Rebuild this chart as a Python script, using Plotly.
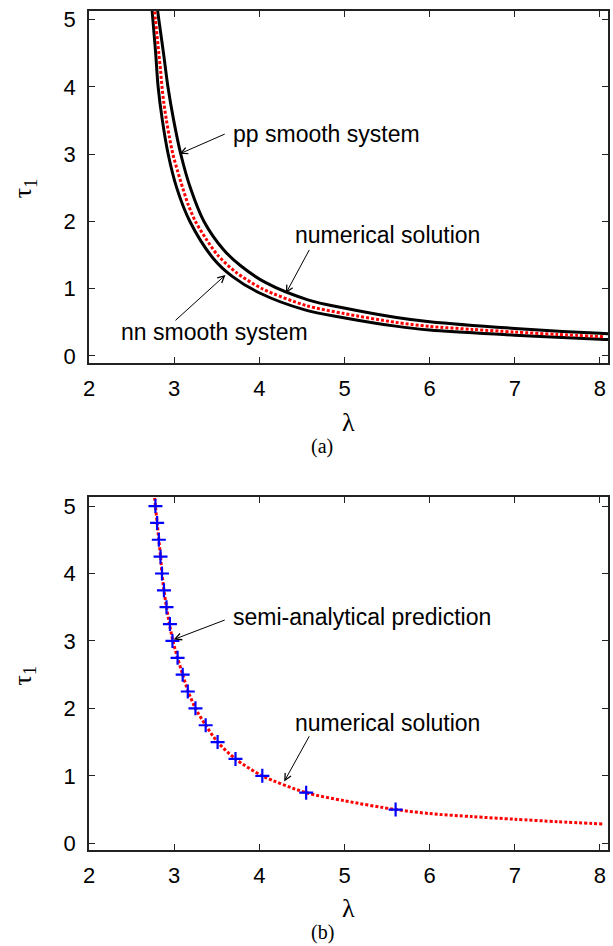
import plotly.graph_objects as go

# ---------------- data ----------------
# numerical solution (red dotted)
num_lam = [2.765, 2.78, 2.80, 2.82, 2.84, 2.857, 2.88, 2.91, 2.945, 2.985, 3.04, 3.10,
           3.165, 3.25, 3.37, 3.51, 3.72, 4.035, 4.55, 5.0, 5.6, 6.0, 6.5, 7.0, 7.5, 8.05]
num_tau = [5.2, 5.0, 4.75, 4.5, 4.25, 4.0, 3.75, 3.5, 3.25, 3.0, 2.75, 2.5,
           2.25, 2.0, 1.75, 1.5, 1.25, 1.0, 0.75, 0.63, 0.5, 0.44, 0.395, 0.356, 0.32, 0.285]

# pp smooth system (upper black)
pp_lam = [2.80, 2.82, 2.875, 2.927, 2.995, 3.078, 3.19, 3.35, 3.58, 3.777, 4.07, 4.57,
          5.01, 5.61, 6.0, 7.0, 8.0, 8.15]
pp_tau = [5.2, 5.0, 4.5, 4.0, 3.5, 3.0, 2.5, 2.0, 1.58, 1.345, 1.094, 0.835,
          0.71, 0.573, 0.51, 0.41, 0.337, 0.33]

# nn smooth system (lower black)
nn_lam = [2.737, 2.75, 2.783, 2.812, 2.862, 2.93, 3.03, 3.185, 3.462, 3.682, 4.01, 4.535,
          4.99, 5.6, 6.0, 7.0, 8.0, 8.15]
nn_tau = [5.2, 5.0, 4.5, 4.0, 3.5, 3.0, 2.5, 2.0, 1.446, 1.184, 0.933, 0.686,
          0.57, 0.444, 0.385, 0.31, 0.248, 0.243]

# semi-analytical prediction (blue crosses)
sa_lam = [2.78, 2.80, 2.82, 2.84, 2.857, 2.88, 2.91, 2.95, 2.98, 3.04, 3.10, 3.16,
          3.25, 3.37, 3.51, 3.72, 4.035, 4.55, 5.60]
sa_tau = [5.0, 4.75, 4.5, 4.25, 4.0, 3.75, 3.5, 3.25, 3.0, 2.75, 2.5, 2.25,
          2.0, 1.75, 1.5, 1.25, 1.0, 0.75, 0.5]

x_ticks = [2, 3, 4, 5, 6, 7, 8]
y_ticks = [0, 1, 2, 3, 4, 5]

# ---------------- figure ----------------
SANS = "Liberation Sans, Arial, Helvetica, sans-serif"
SERIF = "Liberation Serif, Times New Roman, serif"
RED_DOT = "3px,2px"

fig = go.Figure()

# top panel
fig.add_trace(go.Scatter(x=pp_lam, y=pp_tau, mode="lines", xaxis="x", yaxis="y",
                         line=dict(color="black", width=3, shape="spline", smoothing=1.0)))
fig.add_trace(go.Scatter(x=nn_lam, y=nn_tau, mode="lines", xaxis="x", yaxis="y",
                         line=dict(color="black", width=3, shape="spline", smoothing=1.0)))
fig.add_trace(go.Scatter(x=num_lam, y=num_tau, mode="lines", xaxis="x", yaxis="y",
                         line=dict(color="red", width=3, dash=RED_DOT, shape="spline", smoothing=0.8)))

# bottom panel
fig.add_trace(go.Scatter(x=num_lam, y=num_tau, mode="lines", xaxis="x2", yaxis="y2",
                         line=dict(color="red", width=3, dash=RED_DOT, shape="spline", smoothing=0.8)))
fig.add_trace(go.Scatter(x=sa_lam, y=sa_tau, mode="markers", xaxis="x2", yaxis="y2",
                         marker=dict(symbol="cross-thin", size=10, color="blue",
                                     line=dict(color="blue", width=2.2))))

axis_common = dict(
    showline=True, mirror="allticks", linecolor="#222", linewidth=1.5,
    ticks="inside", ticklen=6, tickwidth=1, tickcolor="#222",
    showgrid=False, zeroline=False,
    tickfont=dict(family=SANS, size=22, color="black"),
)

top_dom = [0.5808, 1.0]
bot_dom = [0.0, 0.4204]
xr = [2, 8.094]
yr = [-0.1, 5.13]

fig.update_layout(
    width=613, height=946,
    margin=dict(l=89, r=3, t=11, b=96),
    paper_bgcolor="white", plot_bgcolor="white",
    showlegend=False,
    xaxis=dict(axis_common, domain=[0, 1], range=xr, tickvals=x_ticks, anchor="y", ticklabelstandoff=5),
    yaxis=dict(axis_common, domain=top_dom, range=yr, tickvals=y_ticks, anchor="x", ticklabelstandoff=7),
    xaxis2=dict(axis_common, domain=[0, 1], range=xr, tickvals=x_ticks, anchor="y2", ticklabelstandoff=5),
    yaxis2=dict(axis_common, domain=bot_dom, range=yr, tickvals=y_ticks, anchor="x2", ticklabelstandoff=7),
)

ann = []

def arrow(xr_, yr_, tail, head):
    ann.append(dict(xref=xr_, yref=yr_, axref=xr_, ayref=yr_,
                    x=head[0], y=head[1], ax=tail[0], ay=tail[1],
                    text="", showarrow=True, arrowhead=5, arrowsize=1.3,
                    arrowwidth=1, arrowcolor="black", standoff=0, startstandoff=0))

def label(xr_, yr_, x, y, text, anchor="left"):
    ann.append(dict(xref=xr_, yref=yr_, x=x, y=y, text=text, showarrow=False,
                    xanchor=anchor, yanchor="middle",
                    font=dict(family=SANS, size=23, color="black")))

# top panel annotations
arrow("x", "y", (3.611, 3.309), (3.064, 3.006))
label("x", "y", 3.673, 3.306, "pp smooth system", "left")
arrow("x", "y", (4.596, 1.600), (4.312, 0.932))
label("x", "y", 5.509, 1.798, "numerical solution", "center")
arrow("x", "y", (2.998, 0.510), (3.602, 1.204))
label("x", "y", 3.478, 0.357, "nn smooth system", "center")

# bottom panel annotations
arrow("x2", "y2", (3.611, 3.318), (2.994, 3.021))
label("x2", "y2", 3.669, 3.348, "semi-analytical prediction", "left")
arrow("x2", "y2", (4.596, 1.609), (4.292, 0.915))
label("x2", "y2", 5.509, 1.783, "numerical solution", "center")

# axis titles and panel labels
for yc in (0.5101, -0.0703):
    ann.append(dict(xref="paper", yref="paper", x=0.5, y=yc, text="λ", showarrow=False,
                    xanchor="center", yanchor="middle",
                    font=dict(family=SERIF, size=26, color="black")))
for yc in (0.789, 0.2082):
    ann.append(dict(xref="paper", yref="paper", x=-0.1248, y=yc, text="τ<sub>1</sub>",
                    showarrow=False, textangle=-90, xanchor="center", yanchor="middle",
                    font=dict(family=SERIF, size=26, color="black")))
ann.append(dict(xref="paper", yref="paper", x=0.449, y=0.4815, text="(a)", showarrow=False,
                xanchor="center", yanchor="middle", font=dict(family=SERIF, size=20, color="black")))
ann.append(dict(xref="paper", yref="paper", x=0.449, y=-0.0989, text="(b)", showarrow=False,
                xanchor="center", yanchor="middle", font=dict(family=SERIF, size=20, color="black")))

fig.update_layout(annotations=ann)

fig.write_html("out.html")
